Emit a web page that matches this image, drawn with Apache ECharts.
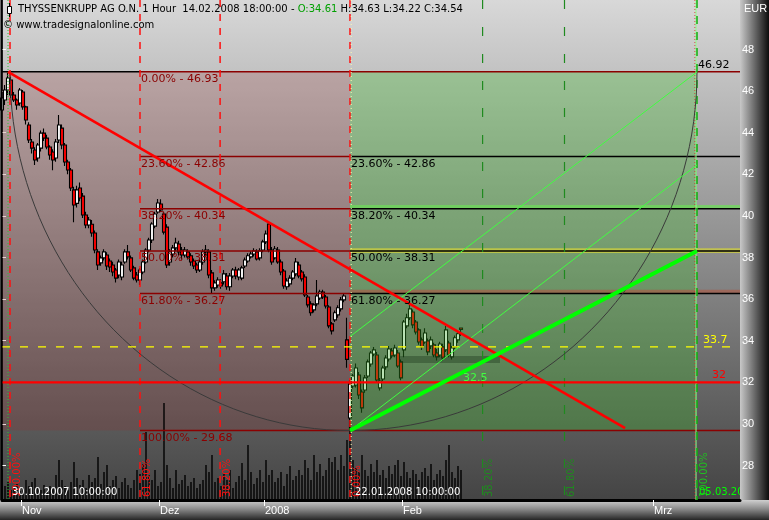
<!DOCTYPE html>
<html>
<head>
<meta charset="utf-8">
<title>THYSSENKRUPP AG O.N. 1 Hour</title>
<script src="https://cdn.jsdelivr.net/npm/echarts@6.0.0/dist/echarts.min.js"></script>
<style>
html, body { margin: 0; padding: 0; background: #000; overflow: hidden; }
#chart { width: 769px; height: 520px; }
</style>
</head>
<body>
<div id="chart"></div>
<script>
// Hourly candles; the x axis counts bars (index 0 = first bar on screen).
const opens = [
  45.09, 45.57, 46.05, 46.53, 45.81, 45.57, 45.43, 45.96, 45.24, 44.37,
  43.55, 43.17, 42.78, 43.26, 43.98, 43.74, 43.31, 43.07, 42.78, 43.65,
  44.22, 43.41, 42.59, 42.21, 41.25, 40.60, 41.34, 40.95, 40.04, 39.56,
  39.60, 39.18, 38.27, 37.74, 37.98, 38.12, 37.83, 37.64, 37.40, 37.16,
  37.06, 37.78, 38.27, 37.98, 37.50, 37.16, 36.92, 37.30, 37.78, 38.36,
  38.84, 39.51, 40.19, 40.57, 40.09, 39.46, 37.78, 38.17, 38.46, 38.65,
  38.36, 38.12, 38.27, 38.08, 37.83, 37.64, 37.40, 37.78, 38.27, 38.27,
  37.26, 36.54, 36.68, 36.78, 36.83, 37.11, 36.59, 37.11, 37.40, 37.06,
  37.01, 37.59, 37.83, 38.03, 38.17, 38.27, 37.98, 38.36, 38.75, 39.61,
  38.36, 37.98, 38.36, 37.78, 37.35, 36.59, 36.73, 37.01, 37.21, 37.64,
  37.30, 37.06, 36.10, 35.77, 35.48, 35.77, 36.05, 36.34, 36.10, 35.62,
  34.81, 35.00, 35.24, 35.53, 35.96, 34.04, 30.28, 31.82, 31.87, 32.35,
  31.53, 31.63, 32.30, 32.88, 33.36, 33.31, 31.73, 32.16, 32.74, 33.12,
  33.51, 33.31, 33.41, 32.98, 33.56, 34.71, 35.10, 35.38, 34.90, 34.52,
  34.04, 33.94, 33.99, 33.75, 33.80, 33.41, 33.31, 33.70, 33.56, 33.89,
  33.22, 33.70, 34.04, 34.61
];
const closes = [
  45.67, 46.05, 46.63, 45.81, 45.57, 45.33, 46.05, 45.24, 44.61, 43.65,
  43.26, 42.69, 43.41, 43.98, 43.74, 43.31, 42.93, 42.69, 43.55, 44.37,
  43.41, 42.59, 42.21, 41.34, 40.52, 41.25, 40.86, 40.04, 39.56, 39.80,
  39.18, 38.36, 37.64, 37.98, 38.27, 37.59, 37.54, 37.30, 37.01, 37.78,
  37.64, 38.27, 38.03, 37.40, 37.01, 36.92, 37.40, 37.78, 38.36, 38.84,
  39.61, 40.09, 40.62, 40.28, 39.22, 37.64, 38.27, 38.46, 38.70, 38.27,
  38.12, 38.36, 38.03, 37.78, 37.59, 37.40, 37.78, 38.27, 38.36, 37.16,
  36.54, 36.78, 36.92, 36.63, 37.21, 36.59, 37.11, 37.40, 37.11, 37.40,
  37.50, 37.88, 38.08, 38.17, 38.32, 37.93, 38.32, 38.75, 39.13, 38.36,
  37.78, 38.41, 37.78, 37.30, 36.63, 36.87, 37.01, 37.30, 37.78, 37.11,
  36.97, 36.20, 35.72, 35.34, 35.72, 36.15, 36.34, 36.10, 35.67, 34.71,
  34.47, 35.34, 35.58, 35.96, 36.15, 33.10, 31.92, 32.30, 32.69, 31.39,
  30.77, 32.21, 32.98, 33.41, 33.56, 32.11, 32.06, 32.69, 33.17, 33.60,
  33.27, 33.65, 32.78, 32.21, 34.90, 35.10, 35.53, 34.76, 34.42, 33.94,
  33.70, 34.37, 33.46, 34.04, 33.31, 33.22, 33.84, 33.17, 34.52, 33.31,
  33.65, 34.14, 34.33, 34.54
];
const highs = [
  45.96, 46.29, 46.93, 46.70, 45.96, 45.65, 46.15, 46.05, 45.30, 44.50,
  43.70, 43.30, 43.50, 44.10, 44.20, 43.90, 43.40, 43.20, 43.70, 44.85,
  44.40, 43.50, 42.70, 42.30, 41.40, 41.45, 41.60, 41.10, 40.20, 39.95,
  39.80, 39.30, 38.40, 38.10, 38.40, 38.25, 37.95, 37.80, 37.50, 37.90,
  37.80, 38.40, 38.60, 38.10, 37.60, 37.30, 37.50, 37.90, 38.45, 38.95,
  39.70, 40.20, 40.81, 40.80, 40.20, 39.60, 38.40, 38.60, 38.95, 38.80,
  38.50, 38.50, 38.40, 38.20, 37.95, 37.75, 37.90, 38.40, 38.60, 38.40,
  37.40, 36.90, 37.05, 36.95, 37.40, 37.25, 37.25, 37.50, 37.55, 37.50,
  37.60, 38.00, 38.20, 38.30, 38.45, 38.40, 38.45, 38.85, 39.30, 39.65,
  38.50, 38.55, 38.50, 37.90, 37.45, 37.00, 37.15, 37.40, 37.98, 37.80,
  37.40, 37.20, 36.20, 35.90, 35.80, 36.92, 36.45, 36.45, 36.20, 35.70,
  34.90, 35.45, 35.70, 36.10, 36.25, 35.10, 32.10, 32.40, 32.90, 32.50,
  31.65, 32.35, 33.10, 33.50, 33.70, 33.45, 32.20, 32.80, 33.30, 33.75,
  33.65, 33.80, 33.55, 33.10, 35.00, 35.30, 35.75, 35.50, 35.00, 34.60,
  34.15, 34.60, 34.10, 34.20, 33.90, 33.60, 33.95, 33.85, 34.70, 34.00,
  33.75, 34.25, 34.50, 34.63
];
const lows = [
  44.70, 45.33, 45.81, 45.67, 45.47, 45.10, 45.30, 45.10, 44.40, 43.50,
  43.00, 42.45, 42.60, 43.10, 43.60, 43.20, 42.70, 42.20, 42.60, 43.50,
  43.20, 42.40, 42.00, 41.20, 39.70, 40.40, 40.70, 39.90, 39.40, 39.40,
  39.00, 38.20, 37.40, 37.60, 37.85, 37.40, 37.30, 37.10, 36.80, 37.00,
  36.90, 37.70, 37.90, 37.30, 36.90, 36.80, 36.68, 37.20, 37.70, 38.25,
  38.70, 39.40, 40.10, 40.20, 39.10, 37.50, 37.60, 38.00, 38.30, 38.10,
  37.90, 38.00, 37.90, 37.60, 37.45, 37.25, 37.30, 37.65, 38.10, 37.00,
  36.27, 36.40, 36.55, 36.50, 36.70, 36.45, 36.40, 37.00, 36.95, 36.90,
  36.90, 37.50, 37.75, 37.95, 38.05, 37.85, 37.85, 38.25, 38.65, 38.25,
  37.65, 37.90, 37.70, 37.15, 36.50, 36.45, 36.60, 36.90, 37.10, 37.00,
  36.85, 36.10, 35.60, 35.20, 35.35, 35.65, 35.95, 36.00, 35.55, 34.60,
  34.30, 34.90, 35.10, 35.40, 35.85, 32.70, 29.68, 31.70, 31.75, 31.20,
  30.53, 31.50, 32.20, 32.75, 33.25, 32.00, 31.60, 32.05, 32.60, 33.00,
  33.15, 33.20, 32.70, 32.10, 33.20, 34.60, 35.00, 34.60, 34.30, 33.80,
  33.55, 33.85, 33.30, 33.60, 33.20, 33.05, 33.20, 33.05, 33.45, 33.20,
  33.10, 33.60, 33.90, 34.22
];
// traded volume per bar, thousand shares
const volumes = [
  30, 14, 18, 10, 12, 16, 9, 12, 20, 14,
  18, 22, 12, 10, 15, 8, 14, 11, 25, 40,
  20, 14, 10, 18, 38, 22, 15, 20, 12, 25,
  18, 22, 43, 16, 28, 35, 14, 20, 24, 12,
  18, 22, 15, 12, 20, 30, 26, 36, 68, 25,
  20, 30, 14, 18, 97, 35, 22, 12, 30, 16,
  20, 25, 14, 18, 22, 12, 16, 20, 35, 28,
  45, 18, 22, 14, 26, 20, 30, 12, 18, 24,
  37, 20, 55, 28, 16, 22, 30, 18, 40, 25,
  30, 18, 22, 28, 14, 26, 34, 20, 24, 30,
  25, 40, 32, 20, 45, 28, 36, 24, 30, 42,
  38, 43, 30, 45, 34, 60, 80, 40, 32, 28,
  45, 30, 24, 36, 28, 40, 25, 30, 22, 34,
  26, 35, 40, 24, 38, 28, 22, 30, 26, 20,
  28, 32, 24, 36, 20, 26, 30, 24, 40, 55,
  28, 22, 34, 30
];

// axis ticks
const monthTickBars = [6.33, 52.33, 87.33, 133.33, 217];
const monthTickLabels = ['Nov', 'Dez', '2008', 'Feb', 'Mrz'];
const priceTicks = [28, 30, 32, 34, 36, 38, 40, 42, 44, 46, 48];

// Fibonacci retracement of the swing 46.93 -> 29.68
const fibLevels = [46.93, 42.86, 40.34, 38.31, 36.27, 29.68];
const fibRatios = ['0.00%', '23.60%', '38.20%', '50.00%', '61.80%', '100.00%'];
const fibAnchorBar = 46;

// Fibonacci time zones (bar positions)
const swingHighBar = 2.67;
const swingLowBar = 116;
const projectionEndBar = 231.67;
const pastZoneBars = [2.67, 46, 72.7, 116];
const pastZoneLabels = ['100.00%', '61.80%', '38.20%', '0.00%'];
const futureZoneBars = [160.2, 187.5, 231.67];
const futureZoneLabels = ['38.20%', '61.80%', '100.00%'];
const zoneDates = ['30.10.2007 10:00:00', '22.01.2008 10:00:00', '05.03.2008 10:00:00'];

// trend lines and levels
const downTrend = [[2, 46.93], [207.7, 29.8]];
const upTrend = [[116, 29.68], [231.67, 38.31]];
const channelUpper = [[116, 34.2], [231.67, 46.92]];
const channelLower = [[116, 29.68], [231.67, 42.45]];
const projectionTarget = 46.92;
const upTrendNow = [153, 32.5];
const supportLevel = 32;
const pivotLevel = 33.7;
const rangeBox = [[132.7, 33.26], [166, 32.93]];

const PRICE_MIN = 26.34, PRICE_MAX = 50.38, BAR_MAX = 246;

const candleData = opens.map((o, i) => [i, o, closes[i], lows[i], highs[i]]);
const volumeData = volumes.map((v, i) => [i, v]);
const last = opens.length - 1;

const FONT = 'DejaVu Sans';

function seg(api, a, b, style) {
  const p = api.coord(a), q = api.coord(b);
  return { type: 'line', shape: { x1: p[0], y1: p[1], x2: q[0], y2: q[1] }, style: style };
}
function vline(api, bar, style) {
  return seg(api, [bar, PRICE_MAX], [bar, PRICE_MIN], style);
}
function box(api, a, b, fill) {
  const p = api.coord(a), q = api.coord(b);
  return { type: 'rect', shape: { x: Math.min(p[0], q[0]), y: Math.min(p[1], q[1]), width: Math.abs(q[0] - p[0]), height: Math.abs(q[1] - p[1]) }, style: { fill: fill } };
}
function label(x, y, text, fill, size, align, vAlign, rotation) {
  return { type: 'text', x: x, y: y, rotation: rotation || 0,
    style: { text: text, fill: fill, font: size + 'px "' + FONT + '"', align: align || 'left', verticalAlign: vAlign || 'top' } };
}

// shaded retracement zone behind the candles
function renderBackZones(params, api) {
  return { type: 'group', children: [
    box(api, [0, fibLevels[0]], [swingLowBar, fibLevels[5]], 'rgba(150,40,40,0.20)')
  ] };
}

// projection zone drawn over the candles
function renderFrontZones(params, api) {
  return { type: 'group', children: [
    box(api, [swingLowBar, fibLevels[0]], [projectionEndBar, fibLevels[5]], 'rgba(60,190,40,0.30)'),
    box(api, [swingLowBar, fibLevels[2]], [BAR_MAX, 40.52], 'rgba(110,220,90,0.75)'),
    box(api, [swingLowBar, 38.22], [BAR_MAX, 38.45], 'rgba(210,210,60,0.75)'),
    box(api, [swingLowBar, fibLevels[4]], [BAR_MAX, 36.45], 'rgba(170,90,70,0.65)'),
    box(api, rangeBox[0], rangeBox[1], 'rgba(20,45,20,0.35)')
  ] };
}

function renderLines(params, api) {
  const ch = [];
  const darkRed = '#8b0000';
  // retracement levels
  fibLevels.forEach((lv, k) => {
    const edge = (k === 0 || k === 5);
    ch.push(seg(api, [fibAnchorBar, lv], [edge ? BAR_MAX : swingLowBar, lv], { stroke: darkRed, lineWidth: 1.5 }));
    if (!edge) ch.push(seg(api, [swingLowBar, lv], [BAR_MAX, lv], { stroke: '#000', lineWidth: 1.5 }));
  });
  ch.push(seg(api, [0, fibLevels[0]], [fibAnchorBar, fibLevels[0]], { stroke: '#000', lineWidth: 1.5 }));
  // time zones
  ch.push(vline(api, swingHighBar - 0.67, { stroke: '#30c030', lineWidth: 1, lineDash: [1, 2] }));
  pastZoneBars.forEach(b => ch.push(vline(api, b, { stroke: '#ff1010', lineWidth: 1.5, lineDash: [7, 7] })));
  ch.push(vline(api, swingLowBar + 0.4, { stroke: '#fff8b0', lineWidth: 1, lineDash: [1, 3] }));
  futureZoneBars.slice(0, 2).forEach(b => ch.push(vline(api, b, { stroke: '#1f8a1f', lineWidth: 1.2, lineDash: [9, 18] })));
  ch.push(vline(api, projectionEndBar - 0.67, { stroke: '#e02020', lineWidth: 1, lineDash: [1, 2] }));
  ch.push(vline(api, projectionEndBar - 0.33, { stroke: '#90ff90', lineWidth: 1 }));
  ch.push(vline(api, projectionEndBar, { stroke: '#10b010', lineWidth: 1.5, lineDash: [8, 8] }));
  // arcs from the swing high through the swing low to the projection end
  const c = api.coord([swingLowBar, fibLevels[0]]);
  const rxL = c[0] - api.coord([swingHighBar, fibLevels[0]])[0];
  const rxR = api.coord([projectionEndBar, fibLevels[0]])[0] - c[0];
  const ry = api.coord([swingLowBar, fibLevels[5]])[1] - c[1];
  const pts = [];
  for (let t = 180; t >= 0; t -= 2) {
    const a = t * Math.PI / 180;
    const rx = t > 90 ? rxL : rxR;
    pts.push([c[0] + rx * Math.cos(a), c[1] + ry * Math.sin(a)]);
  }
  ch.push({ type: 'polyline', shape: { points: pts }, style: { stroke: '#3a3a3a', lineWidth: 1, fill: null } });
  // horizontal levels
  ch.push(seg(api, [0, pivotLevel], [BAR_MAX, pivotLevel], { stroke: '#ffff00', lineWidth: 1.2, lineDash: [8, 10] }));
  ch.push(seg(api, [0, supportLevel], [BAR_MAX, supportLevel], { stroke: '#ff0000', lineWidth: 2.2 }));
  // channel and trend lines
  ch.push(seg(api, channelUpper[0], channelUpper[1], { stroke: '#40ff40', lineWidth: 1 }));
  ch.push(seg(api, channelLower[0], channelLower[1], { stroke: '#40ff40', lineWidth: 1 }));
  ch.push(seg(api, downTrend[0], downTrend[1], { stroke: '#ff0000', lineWidth: 2.6 }));
  ch.push(seg(api, upTrend[0], upTrend[1], { stroke: '#00ff00', lineWidth: 4 }));
  return { type: 'group', children: ch };
}

function renderLabels(params, api) {
  const ch = [];
  fibLevels.forEach((lv, k) => {
    const p = api.coord([fibAnchorBar, lv]);
    ch.push(label(p[0] + 1, p[1] + 2, fibRatios[k] + ' - ' + lv.toFixed(2), '#8b0000', 11));
    if (k > 0 && k < 5) {
      const q = api.coord([swingLowBar, lv]);
      ch.push(label(q[0] + 1, q[1] + 2, fibRatios[k] + ' - ' + lv.toFixed(2), '#000', 11));
    }
  });
  const yBottom = api.coord([0, PRICE_MIN])[1];
  pastZoneBars.forEach((b, k) => {
    const x = api.coord([b, PRICE_MIN])[0];
    ch.push(label(x + 2, yBottom - 3, pastZoneLabels[k], '#ff1010', 10, 'left', 'top', Math.PI / 2));
  });
  futureZoneBars.forEach((b, k) => {
    const x = api.coord([b, PRICE_MIN])[0];
    ch.push(label(x + 2, yBottom - 3, futureZoneLabels[k], k === 2 ? '#20c020' : '#1f8a1f', 10, 'left', 'top', Math.PI / 2));
  });
  [swingHighBar, swingLowBar, projectionEndBar].forEach((b, k) => {
    const x = api.coord([b, PRICE_MIN])[0];
    ch.push(label(x + (k === 1 ? 5 : 2), yBottom - 3, zoneDates[k], k === 2 ? '#00ff00' : '#fff', 10, 'left', 'bottom'));
  });
  const t = api.coord([projectionEndBar, projectionTarget]);
  ch.push(label(t[0] + 1, t[1] - 1, projectionTarget.toFixed(2), '#000', 11, 'left', 'bottom'));
  const rightX = api.coord([BAR_MAX, 0])[0];
  const pv = api.coord([BAR_MAX, pivotLevel]);
  ch.push(label(rightX - 37, pv[1] - 1, String(pivotLevel), '#ffff00', 11, 'left', 'bottom'));
  const sp = api.coord([BAR_MAX, supportLevel]);
  ch.push(label(rightX - 28, sp[1] - 2, String(supportLevel), '#ff0000', 11, 'left', 'bottom'));
  const un = api.coord(upTrendNow);
  ch.push(label(un[0] + 2, un[1] + 1, String(upTrendNow[1]), '#40ff40', 11, 'left', 'top'));
  return { type: 'group', children: ch };
}

const chart = echarts.init(document.getElementById('chart'), null, { renderer: 'canvas', width: 769, height: 520 });

const headerRich = {
  a: { fill: '#000', font: '10px "' + FONT + '"' },
  g: { fill: '#00a000', font: '10px "' + FONT + '"' }
};

chart.setOption({
  animation: false,
  backgroundColor: '#000',
  grid: { left: 2, right: 29, top: 0, bottom: 20, containLabel: false },
  xAxis: {
    type: 'value', min: 0, max: BAR_MAX,
    axisLine: { show: true, onZero: false, lineStyle: { color: '#000', width: 3 } },
    axisTick: { show: true, customValues: monthTickBars, length: 6, lineStyle: { color: '#fff', width: 1 } },
    axisLabel: {
      customValues: monthTickBars, color: '#fff', fontFamily: 'Liberation Sans', fontSize: 11,
      align: 'left', margin: 5, padding: [0, 0, 0, 1],
      formatter: v => monthTickLabels[monthTickBars.indexOf(v)] || ''
    },
    splitLine: { show: false }
  },
  yAxis: [{
    type: 'value', position: 'right', min: PRICE_MIN, max: PRICE_MAX,
    axisLine: { show: true, lineStyle: { color: '#000', width: 1.5 } },
    axisTick: { show: true, customValues: priceTicks, length: 4, lineStyle: { color: '#fff', width: 1 } },
    axisLabel: { customValues: priceTicks, color: '#fff', fontFamily: 'Liberation Sans', fontSize: 11, margin: 2 },
    splitLine: { show: false }
  }, {
    type: 'value', min: 0, max: 500, show: false, splitLine: { show: false }
  }],
  graphic: [
    { type: 'rect', z: -10, shape: { x: 0, y: 0, width: 740, height: 500 },
      style: { fill: new echarts.graphic.LinearGradient(0, 0, 0, 1, [{ offset: 0, color: '#d8d8d8' }, { offset: 1, color: '#444444' }]) } },
    { type: 'rect', z: -10, shape: { x: 740, y: 0, width: 29, height: 520 },
      style: { fill: new echarts.graphic.LinearGradient(0, 0, 1, 0, [{ offset: 0, color: '#c8c8c8' }, { offset: 1, color: '#0c0c0c' }]) } },
    { type: 'rect', z: -9, shape: { x: 0, y: 500, width: 769, height: 20 },
      style: { fill: new echarts.graphic.LinearGradient(0, 0, 0, 1, [{ offset: 0, color: '#cfcfcf' }, { offset: 0.45, color: '#8a8a8a' }, { offset: 1, color: '#262626' }]) } },
    { type: 'line', z: 50, shape: { x1: 1.5, y1: 0, x2: 1.5, y2: 500 }, style: { stroke: '#000', lineWidth: 2 } },
    { type: 'rect', z: 60, shape: { x: 7.5, y: 6.5, width: 4, height: 7 }, style: { fill: '#fff', stroke: '#000', lineWidth: 1 } },
    { type: 'line', z: 59, shape: { x1: 9.5, y1: 3, x2: 9.5, y2: 17 }, style: { stroke: '#000', lineWidth: 1 } },
    { type: 'text', z: 60, x: 18, y: 4,
      style: { text: '{a|THYSSENKRUPP AG O.N. 1 Hour  14.02.2008 18:00:00 - }{g|O:' + opens[last].toFixed(2) + '}{a| H:' + highs[last].toFixed(2) + ' L:' + lows[last].toFixed(2) + ' C:' + closes[last].toFixed(2) + '}',
        rich: headerRich } },
    { type: 'text', z: 60, x: 3, y: 20, style: { text: '\u00a9 www.tradesignalonline.com', fill: '#000', font: '10px "' + FONT + '"' } },
    { type: 'text', z: 60, x: 744, y: 3, style: { text: 'EUR', fill: '#fff', font: '11px "Liberation Sans"' } }
  ],
  series: [
    { type: 'custom', name: 'zones', z: 1, clip: true, silent: true, data: [[1, 40]], renderItem: renderBackZones },
    { type: 'bar', name: 'Volume', yAxisIndex: 1, z: 2, barWidth: 1.4, data: volumeData, itemStyle: { color: '#000' }, silent: true },
    { type: 'candlestick', name: 'THYSSENKRUPP', z: 3, barWidth: 3.6, data: candleData,
      encode: { x: 0, y: [1, 2, 3, 4] },
      itemStyle: { color: '#ffffff', color0: '#ff0000', borderColor: '#000', borderColor0: '#000', borderWidth: 1.1 } },
    { type: 'custom', name: 'projection', z: 4, clip: true, silent: true, data: [[1, 40]], renderItem: renderFrontZones },
    { type: 'custom', name: 'lines', z: 5, clip: true, silent: true, data: [[1, 40]], renderItem: renderLines },
    { type: 'custom', name: 'labels', z: 6, clip: true, silent: true, data: [[1, 40]], renderItem: renderLabels }
  ]
});
</script>
</body>
</html>
